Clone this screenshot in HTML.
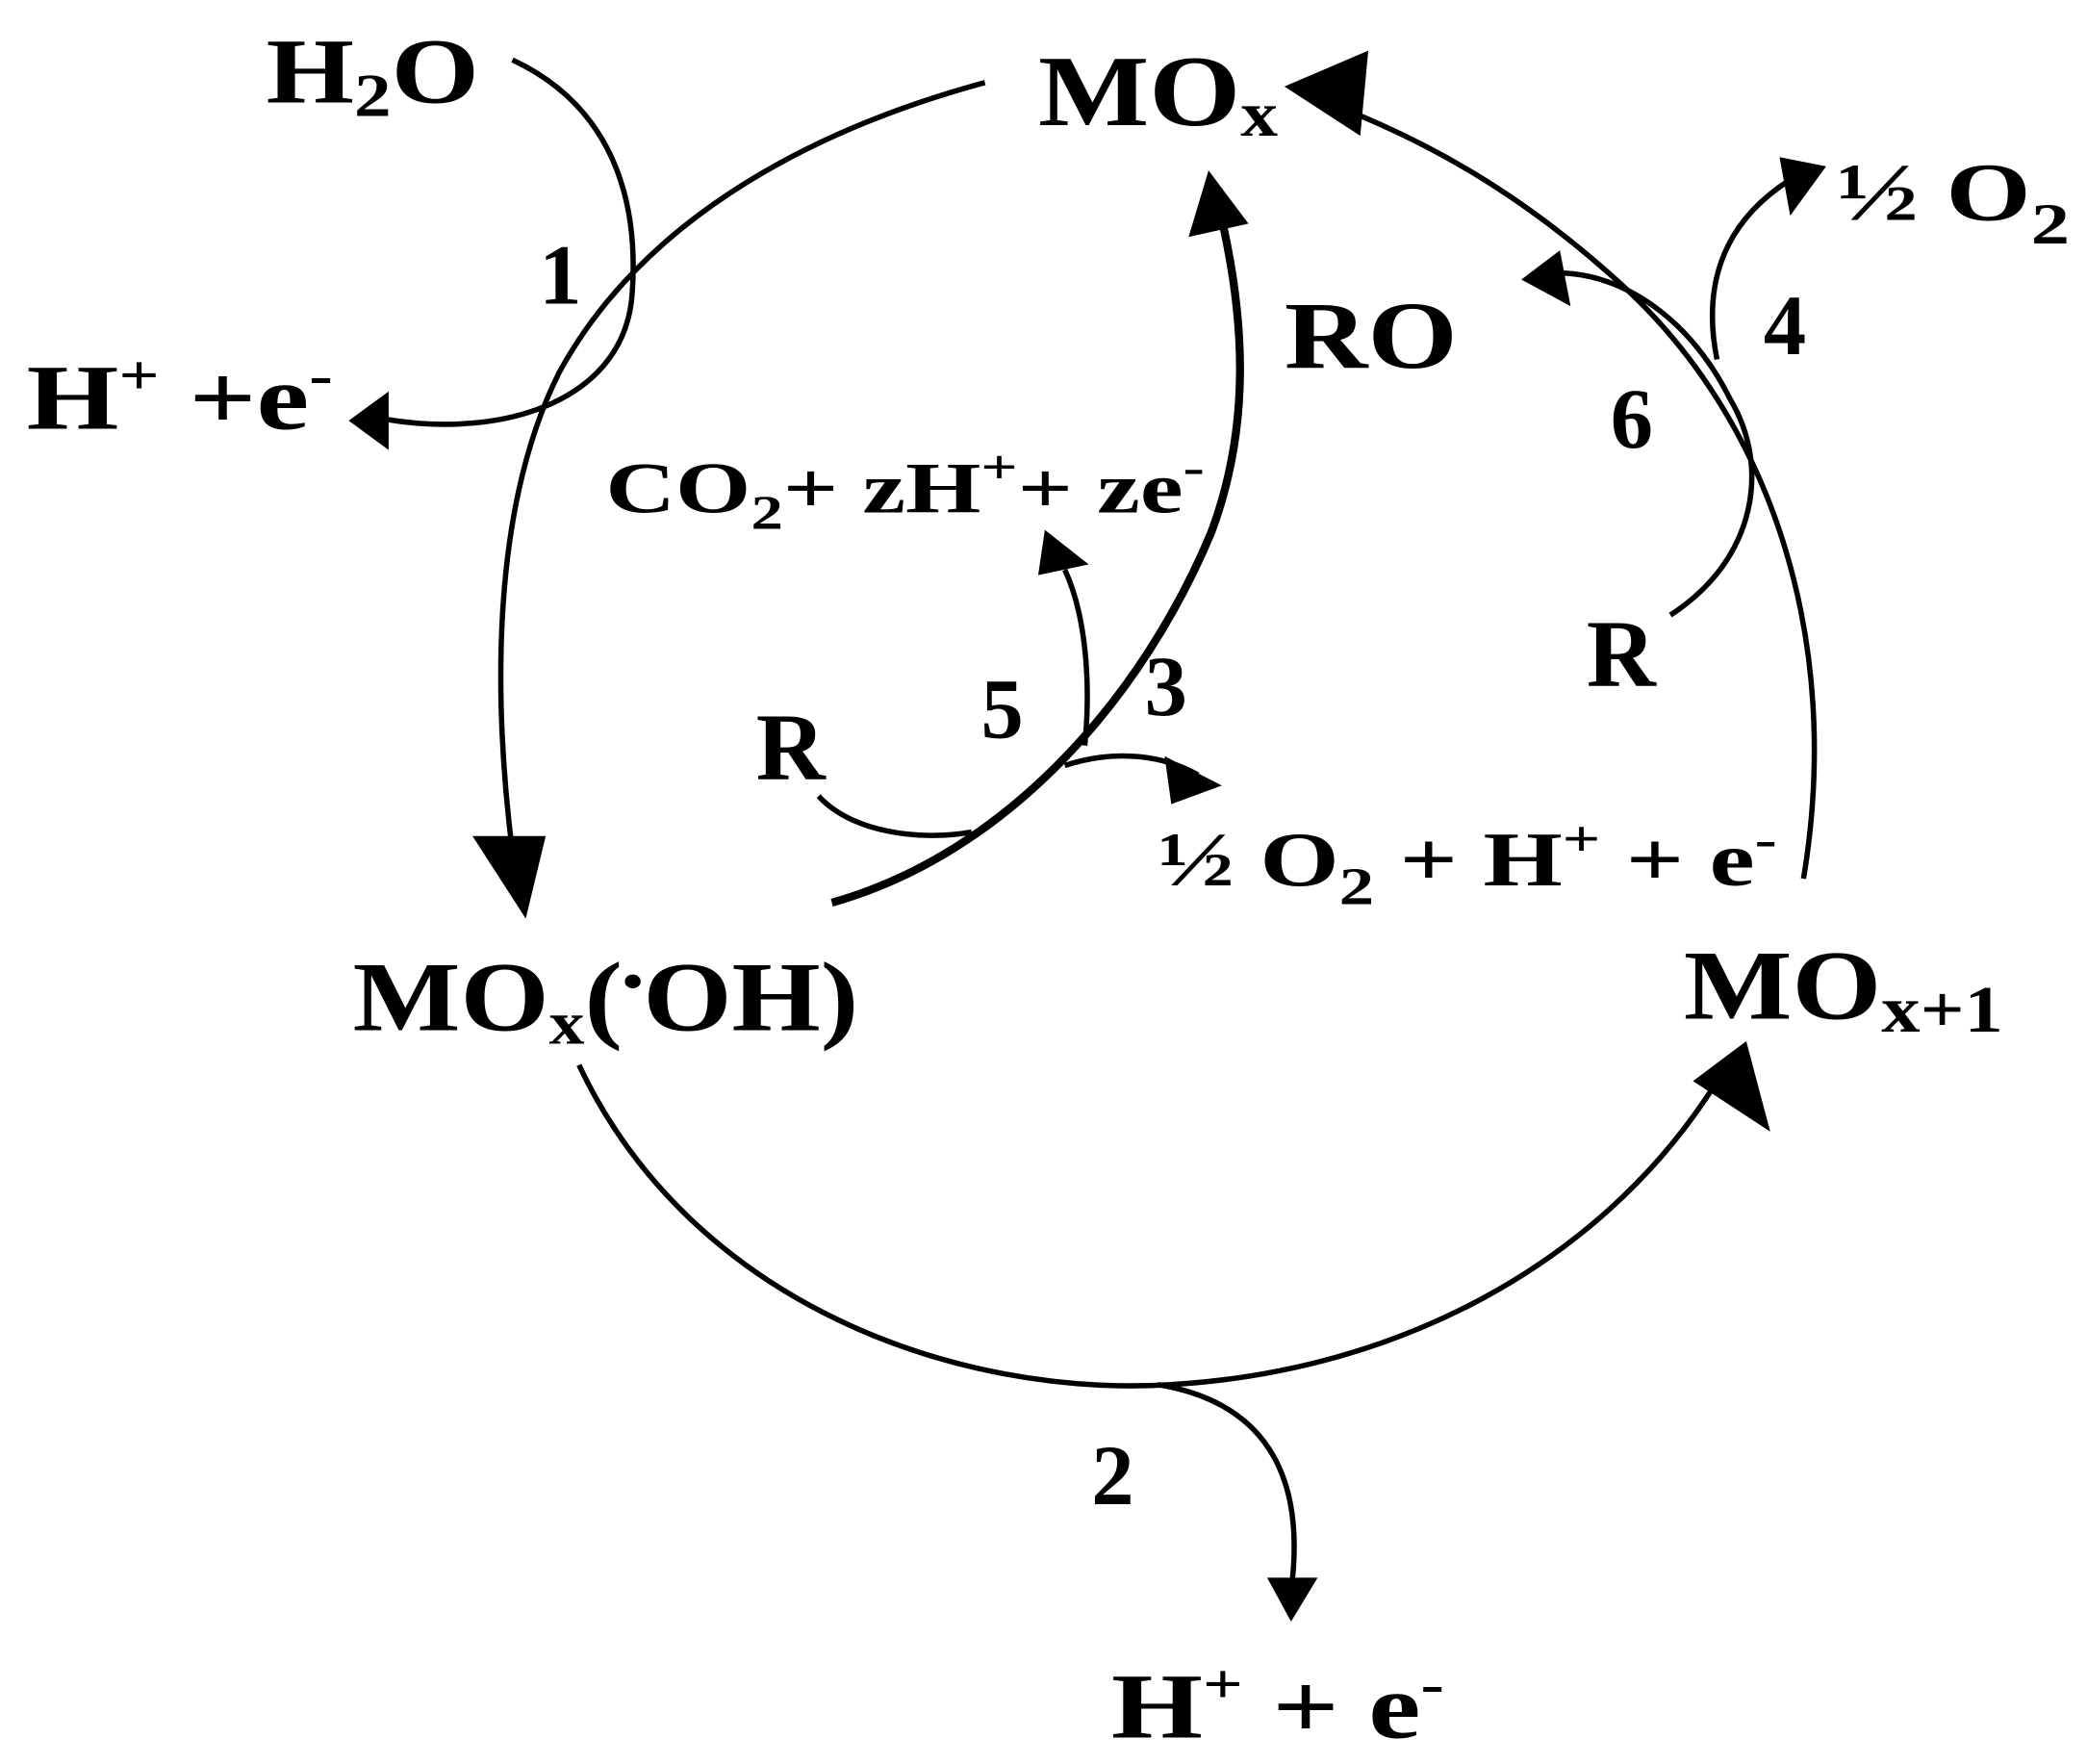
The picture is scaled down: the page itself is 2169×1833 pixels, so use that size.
<!DOCTYPE html>
<html><head><style>
html,body{margin:0;padding:0;background:#fff;}
svg{display:block;}
text{font-family:"Liberation Serif",serif;font-weight:bold;fill:#000;}
</style></head><body>
<svg width="2169" height="1833" viewBox="0 0 1568 1325" preserveAspectRatio="none" xmlns="http://www.w3.org/2000/svg">
<g fill="none" stroke="#000" stroke-width="4">
<path d="M740 62 C600 100 480 170 420 280 C370 380 370 520 385 640"/>
<path d="M435 800 C520 980 720 1050 880 1040 C1050 1030 1200 950 1285 820"/>
<path d="M1355 660 C1385 480 1330 320 1225 220 C1150 150 1080 110 1010 82"/>
<path d="M625 678 C760 640 860 520 910 400 C940 320 935 240 918 165" stroke-width="6"/>
<path d="M385 45 C460 80 480 150 475 220 C470 300 380 330 290 315"/>
<path d="M615 598 C640 625 690 632 730 625"/>
<path d="M815 560 C820 510 815 460 800 428"/>
<path d="M800 575 C840 562 875 568 900 582"/>
<path d="M1255 462 C1320 420 1330 350 1300 300 C1270 240 1220 205 1170 205"/>
<path d="M1290 270 C1280 220 1290 170 1345 135"/>
<path d="M870 1040 C960 1055 980 1120 970 1195"/>
</g>
<g fill="#000">
<polygon points="355,628 410,628 395,690"/>
<polygon points="1272,812 1330,850 1312,782"/>
<polygon points="965,65 1028,38 1022,102"/>
<polygon points="908,128 893,178 938,168"/>
<polygon points="262,316 292,294 292,338"/>
<polygon points="785,398 780,432 818,424"/>
<polygon points="918,590 875,568 880,604"/>
<polygon points="1143,210 1172,188 1180,230"/>
<polygon points="1372,125 1337,118 1345,162"/>
<polygon points="970,1218 952,1185 990,1185"/>
</g>
<text x="200" y="77" font-size="70" textLength="160" lengthAdjust="spacingAndGlyphs">H<tspan font-size="46" dy="10">2</tspan><tspan dy="-10">O</tspan></text>
<text x="780" y="94" font-size="76" textLength="180" lengthAdjust="spacingAndGlyphs">MO<tspan font-size="48" dy="8">x</tspan></text>
<text x="20" y="322" font-size="70" textLength="230" lengthAdjust="spacingAndGlyphs">H<tspan font-size="42" dy="-26">+</tspan><tspan dy="26"> +e</tspan><tspan font-size="42" dy="-26">-</tspan></text>
<text x="405" y="228" font-size="64">1</text>
<text x="965" y="276" font-size="72" textLength="130" lengthAdjust="spacingAndGlyphs">RO</text>
<text x="1380" y="165" font-size="62" textLength="175" lengthAdjust="spacingAndGlyphs">½ O<tspan font-size="44" dy="18">2</tspan></text>
<text x="1325" y="266" font-size="64">4</text>
<text x="1210" y="336" font-size="64">6</text>
<text x="1192" y="515" font-size="72">R</text>
<text x="455" y="385" font-size="54" textLength="450" lengthAdjust="spacingAndGlyphs">CO<tspan font-size="36" dy="12">2</tspan><tspan dy="-12">+ zH</tspan><tspan font-size="36" dy="-22">+</tspan><tspan dy="22">+ ze</tspan><tspan font-size="36" dy="-22">-</tspan></text>
<text x="737" y="554" font-size="64">5</text>
<text x="860" y="537" font-size="64">3</text>
<text x="568" y="585" font-size="72">R</text>
<text x="870" y="665" font-size="58" textLength="465" lengthAdjust="spacingAndGlyphs">½ O<tspan font-size="40" dy="14">2</tspan><tspan dy="-14"> + H</tspan><tspan font-size="38" dy="-22">+</tspan><tspan dy="22"> + e</tspan><tspan font-size="38" dy="-22">-</tspan></text>
<text x="265" y="774" font-size="74" textLength="380" lengthAdjust="spacingAndGlyphs">MO<tspan font-size="46" dy="10">x</tspan><tspan dy="-10">(</tspan><tspan font-size="38" dy="-24">•</tspan><tspan dy="24">OH)</tspan></text>
<text x="1265" y="765" font-size="74" textLength="240" lengthAdjust="spacingAndGlyphs">MO<tspan font-size="50" dy="10">x+1</tspan></text>
<text x="820" y="1130" font-size="64">2</text>
<text x="835" y="1305" font-size="70" textLength="250" lengthAdjust="spacingAndGlyphs">H<tspan font-size="42" dy="-26">+</tspan><tspan dy="26"> + e</tspan><tspan font-size="42" dy="-26">-</tspan></text>
</svg>
</body></html>
